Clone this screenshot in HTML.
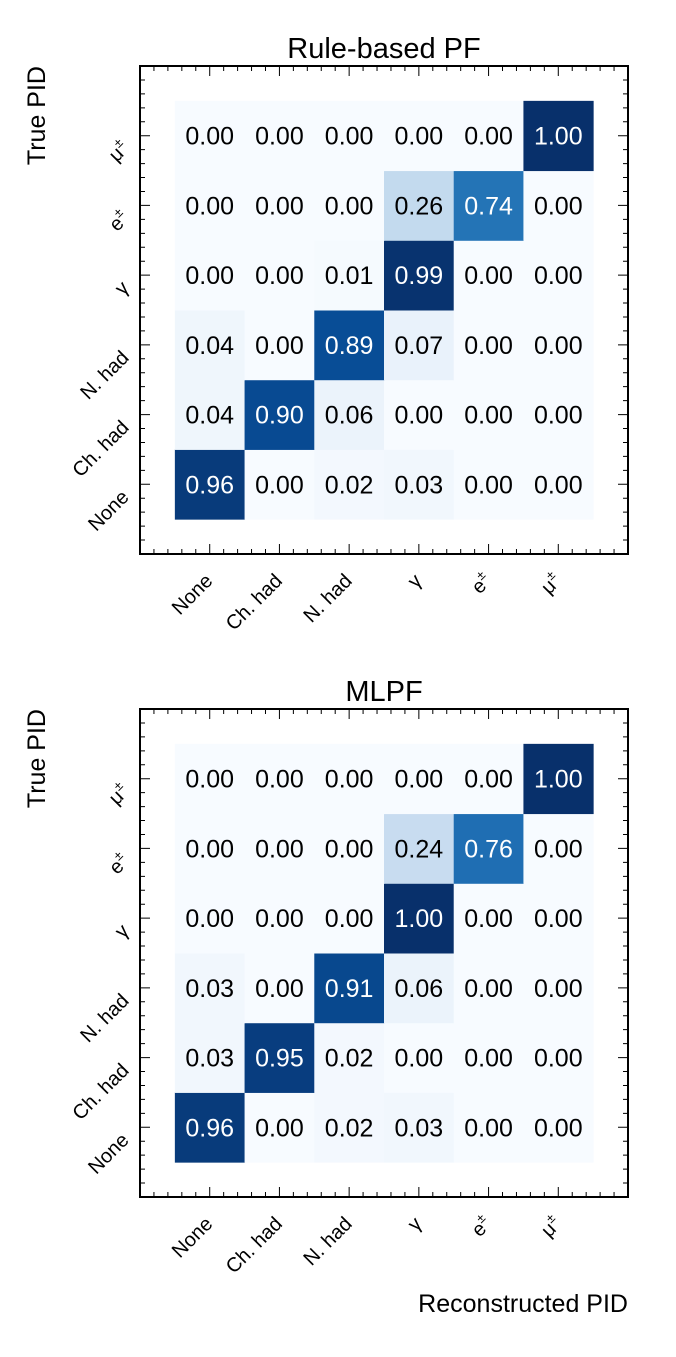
<!DOCTYPE html>
<html><head><meta charset="utf-8"><style>
body{margin:0;background:#fff}
svg text{font-family:"Liberation Sans",Arial,sans-serif;fill:#000}
</style></head><body>
<svg id="chart" width="676" height="1352" viewBox="0 0 676 1352" xmlns="http://www.w3.org/2000/svg"></svg>
<script>
const categories = ["None","Ch. had","N. had","γ","e±","μ±"];
const panelTitles = ["Rule-based PF","MLPF"];
// rows: true PID (None..mu), columns: reconstructed PID (None..mu)
const ruleBased = [
  [0.96,0.00,0.02,0.03,0.00,0.00],
  [0.04,0.90,0.06,0.00,0.00,0.00],
  [0.04,0.00,0.89,0.07,0.00,0.00],
  [0.00,0.00,0.01,0.99,0.00,0.00],
  [0.00,0.00,0.00,0.26,0.74,0.00],
  [0.00,0.00,0.00,0.00,0.00,1.00]
];
const mlpf = [
  [0.96,0.00,0.02,0.03,0.00,0.00],
  [0.03,0.95,0.02,0.00,0.00,0.00],
  [0.03,0.00,0.91,0.06,0.00,0.00],
  [0.00,0.00,0.00,1.00,0.00,0.00],
  [0.00,0.00,0.00,0.24,0.76,0.00],
  [0.00,0.00,0.00,0.00,0.00,1.00]
];

const NS="http://www.w3.org/2000/svg";
const svg=document.getElementById('chart');
function mk(tag,attrs,parent){const e=document.createElementNS(NS,tag);for(const k in attrs)e.setAttribute(k,attrs[k]);(parent||svg).appendChild(e);return e;}
const blues=["#f7fbff","#deebf7","#c6dbef","#9ecae1","#6baed6","#4292c6","#2171b5","#08519c","#08306b"];
function hex(c){return [1,3,5].map(i=>parseInt(c.substr(i,2),16));}
function cmap(v){v=Math.max(0,Math.min(1,v));const p=v*8,i=Math.min(7,Math.floor(p)),t=p-i;const a=hex(blues[i]),b=hex(blues[i+1]);return 'rgb('+a.map((x,k)=>Math.round(x+(b[k]-x)*t)).join(',')+')';}
function labelSvg(txt){ // returns content with superscript for ±
  if(txt.endsWith('±')) return txt[0]+'<tspan dy="-9" font-size="13">±</tspan>';
  return txt;
}
function panel(py, matrix, title, idx){
  const L=140,R=628,T=py,B=py+488;
  const sx=v=>L+(v+1)*(R-L)/7;
  const sy=v=>B-(v+1)*(B-T)/7;
  const g=mk('g',{});  
  const cw=(R-L)/7;
  matrix.forEach((row,r)=>row.forEach((v,c)=>{
    const rc=mk('rect',{x:sx(c-0.5),y:sy(r+0.5),width:cw+0.5,height:cw+0.5,fill:cmap(v)},g);
     
  }));
  matrix.forEach((row,r)=>row.forEach((v,c)=>{
    const t=mk('text',{x:sx(c),y:sy(r)+9,'text-anchor':'middle','font-size':'25'},g);
    t.textContent=v.toFixed(2); if(v>0.5)t.setAttribute('style','fill:#fff');
     
  }));
  const fr=mk('rect',{x:L,y:T,width:R-L,height:B-T,fill:'none',stroke:'#000','stroke-width':2},g);
   
  let d='';
  for(let k=-5;k<=30;k++){const v=k/5; if(v<-1||v>6)continue; const major=(k%5===0); const len=major?10:5;
    const x=sx(v),y=sy(v);
    d+=`M${x},${B}v${-len}M${x},${T}v${len}M${L},${y}h${len}M${R},${y}h${-len}`;}
  const tk=mk('path',{d:d,stroke:'#000','stroke-width':1,fill:'none'},g);
   
  categories.forEach((c,i)=>{
    const x=sx(i),y=B+14;
    const t=mk('text',{x:x+4,y:y+14,'text-anchor':'end','font-size':'20',transform:`rotate(-45 ${x+4} ${y+14})`},g);
    t.innerHTML=labelSvg(c);  
    const yy=sy(i);
    const t2=mk('text',{x:L-10,y:yy+14,'text-anchor':'end','font-size':'20',transform:`rotate(-45 ${L-10} ${yy+14})`},g);
    t2.innerHTML=labelSvg(c);  
  });
  const tt=mk('text',{x:(L+R)/2,y:T-8,'text-anchor':'middle','font-size':'29'},g);
  tt.textContent=title;  
  const yl=mk('text',{x:0,y:0,'text-anchor':'end','font-size':'25',transform:`translate(45 ${T}) rotate(-90)`},g);
  yl.textContent='True PID';  
}
panel(66, ruleBased, panelTitles[0], 0);
panel(709, mlpf, panelTitles[1], 1);
const xl=mk('text',{x:628,y:1312,'text-anchor':'end','font-size':'25'});
xl.textContent='Reconstructed PID';


</script>
</body></html>
